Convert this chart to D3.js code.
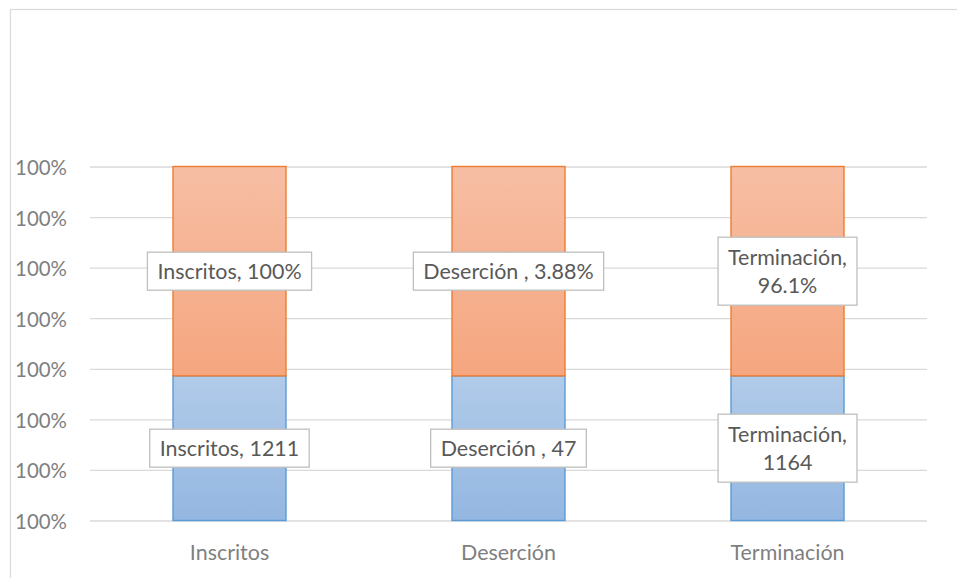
<!DOCTYPE html>
<html>
<head>
<meta charset="utf-8">
<script src="https://cdn.jsdelivr.net/npm/d3@7"></script>
<style>
  html, body { margin: 0; padding: 0; background: #fff; }
  svg { display: block; }
  text { font-family: Lato, "Open Sans", sans-serif; }
</style>
</head>
<body>
<svg id="chart" width="957" height="578"></svg>
<script>
// ---- data ----
const categories = ["Inscritos", "Deserción", "Terminación"];
// bottom (blue) and top (orange) segment heights, in axis units (axis spans 7 gridline steps)
const blueSegment = [2.86, 2.86, 2.86];
const orangeSegment = [4.14, 4.14, 4.14];
const blueLabels = [["Inscritos, 1211"], ["Deserción , 47"], ["Terminación,", "1164"]];
const orangeLabels = [["Inscritos, 100%"], ["Deserción , 3.88%"], ["Terminación,", "96.1%"]];
const yTickValues = [0, 1, 2, 3, 4, 5, 6, 7];
const yTickLabels = ["100%", "100%", "100%", "100%", "100%", "100%", "100%", "100%"];

// ---- layout ----
const svg = d3.select("#chart");
const W = 957, H = 578;
const plot = { left: 90, right: 927, top: 166.5, bottom: 520.5 };

const x = d3.scaleBand().domain(categories)
  .range([plot.left, plot.right]).paddingInner(0.595).paddingOuter(0.2975);
const y = d3.scaleLinear().domain([0, 7]).range([plot.bottom, plot.top]);

// calibrate font size so text widths resemble the reference (Calibri-like widths)
const probe = svg.append("text").attr("font-size", 100).text("Deserción");
const fs = 100 * 95 / probe.node().getComputedTextLength();
probe.remove();
const probe2 = svg.append("text").attr("font-size", 100).text("100%");
const fsAxis = 100 * 52 / probe2.node().getComputedTextLength();
probe2.remove();

// chart border
svg.append("rect").attr("x", 10.5).attr("y", 9.5).attr("width", W + 20).attr("height", H + 20)
  .attr("fill", "none").attr("stroke", "#d9d9d9").attr("stroke-width", 1.2);

// gradients
const defs = svg.append("defs");
function grad(id, c1, c2) {
  const g = defs.append("linearGradient").attr("id", id)
    .attr("x1", 0).attr("y1", 0).attr("x2", 0).attr("y2", 1);
  g.append("stop").attr("offset", "0%").attr("stop-color", c1);
  g.append("stop").attr("offset", "100%").attr("stop-color", c2);
}
grad("gOrange", "#f7bea4", "#f5a67f");
grad("gBlue", "#b1cbe9", "#94b7e1");

// gridlines
const yAxis = d3.axisLeft(y).tickValues(yTickValues)
  .tickFormat((d, i) => yTickLabels[i]).tickSize(-(plot.right - plot.left)).tickPadding(0);
const gy = svg.append("g").attr("transform", `translate(${plot.left},0)`).call(yAxis);
gy.select(".domain").remove();
gy.selectAll(".tick line").attr("stroke", "#d9d9d9").attr("stroke-width", 1.3);
gy.selectAll(".tick text")
  .attr("x", 67 - plot.left)
  .attr("dy", null)
  .attr("dominant-baseline", "central")
  .attr("font-size", fsAxis.toFixed(2))
  .attr("fill", "#7f7f7f")
  .attr("text-anchor", "end");

// bars
const bw = x.bandwidth();
const gBars = svg.append("g");
gBars.selectAll("rect.blue").data(categories).join("rect")
  .attr("class", "blue")
  .attr("x", d => x(d)).attr("width", bw)
  .attr("y", (d, i) => y(blueSegment[i]))
  .attr("height", (d, i) => y(0) - y(blueSegment[i]))
  .attr("fill", "url(#gBlue)").attr("stroke", "#5b9bd5").attr("stroke-width", 1.4);
gBars.selectAll("rect.orange").data(categories).join("rect")
  .attr("class", "orange")
  .attr("x", d => x(d)).attr("width", bw)
  .attr("y", (d, i) => y(blueSegment[i] + orangeSegment[i]))
  .attr("height", (d, i) => y(blueSegment[i]) - y(blueSegment[i] + orangeSegment[i]))
  .attr("fill", "url(#gOrange)").attr("stroke", "#ed7d31").attr("stroke-width", 1.4);

// data labels
const lineH = 28;
function drawLabel(lines, cx, cy) {
  const g = svg.append("g");
  const t = g.append("text").attr("text-anchor", "middle")
    .attr("font-size", fs.toFixed(2)).attr("fill", "#595959");
  const n = lines.length;
  lines.forEach((s, k) => {
    t.append("tspan").attr("x", cx)
      .attr("y", cy + (k - (n - 1) / 2) * lineH)
      .attr("dominant-baseline", "central")
      .text(s);
  });
  let wmax = 0;
  t.selectAll("tspan").each(function () { wmax = Math.max(wmax, this.getComputedTextLength()); });
  const bwid = wmax + 20;
  const bh = n === 1 ? 38 : 68;
  g.insert("rect", "text")
    .attr("x", cx - bwid / 2).attr("y", cy - bh / 2)
    .attr("width", bwid).attr("height", bh)
    .attr("fill", "#ffffff").attr("stroke", "#bfbfbf").attr("stroke-width", 1.3);
}
categories.forEach((c, i) => {
  const cx = x(c) + bw / 2;
  drawLabel(orangeLabels[i], cx, (y(blueSegment[i]) + y(blueSegment[i] + orangeSegment[i])) / 2);
  drawLabel(blueLabels[i], cx, (y(0) + y(blueSegment[i])) / 2);
});

// category axis
const xAxis = d3.axisBottom(x).tickSize(0).tickPadding(0);
const gx = svg.append("g").attr("transform", `translate(0,${plot.bottom})`).call(xAxis);
gx.select(".domain").remove();
gx.selectAll(".tick text")
  .attr("y", 0).attr("dy", null)
  .attr("transform", "translate(0,39)")
  .attr("font-size", fs.toFixed(2))
  .attr("fill", "#7f7f7f");
</script>
</body>
</html>
